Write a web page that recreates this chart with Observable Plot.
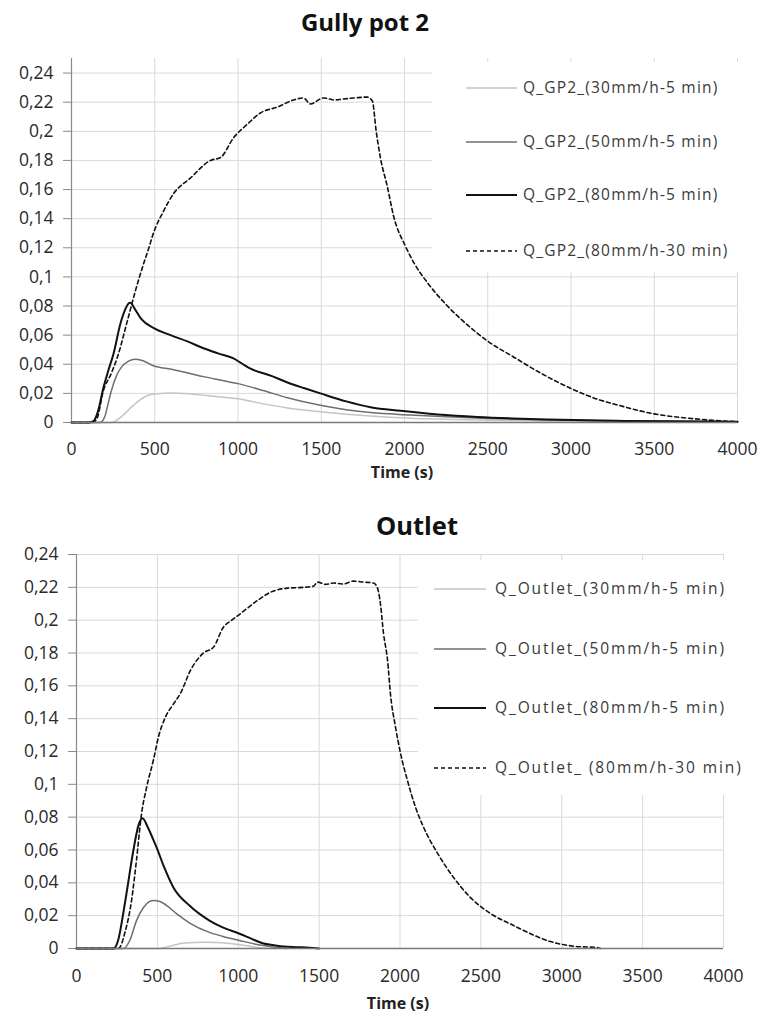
<!DOCTYPE html>
<html>
<head>
<meta charset="utf-8">
<script src="https://cdn.jsdelivr.net/npm/d3@7"></script>
<script src="https://cdn.jsdelivr.net/npm/@observablehq/plot@0.6"></script>
<style>
  body { margin: 0; background: #fff; }
  #root { position: relative; width: 761px; height: 1016px; background: #fff; font-family: "Open Sans", sans-serif; overflow: hidden; }
  .abs { position: absolute; }
  .title { font-weight: bold; line-height: 28px; color: #111; text-align: center; width: 400px; }
  .xlabel { font-weight: bold; font-size: 16px; line-height: 20px; color: #222; text-align: center; width: 200px; }
  .legbox { background: #fff; }
  .legtext { font-size: 15.5px; line-height: 20px; color: #3a3a3a; white-space: nowrap; }
</style>
</head>
<body>
<div id="root"></div>
<script>
// ---------------- DATA ----------------
const xTicks = [0, 500, 1000, 1500, 2000, 2500, 3000, 3500, 4000];
const xTickLabels = ["0", "500", "1000", "1500", "2000", "2500", "3000", "3500", "4000"];
const yTicks = [0, 0.02, 0.04, 0.06, 0.08, 0.1, 0.12, 0.14, 0.16, 0.18, 0.2, 0.22, 0.24];
const yTickLabels = ["0", "0,02", "0,04", "0,06", "0,08", "0,1", "0,12", "0,14", "0,16", "0,18", "0,2", "0,22", "0,24"];
const titles = ["Gully pot 2", "Outlet"];
const xLabel = "Time (s)";

const gp2Labels = ["Q_GP2_(30mm/h-5 min)", "Q_GP2_(50mm/h-5 min)", "Q_GP2_(80mm/h-5 min)", "Q_GP2_(80mm/h-30 min)"];
const outletLabels = ["Q_Outlet_(30mm/h-5 min)", "Q_Outlet_(50mm/h-5 min)", "Q_Outlet_(80mm/h-5 min)", "Q_Outlet_ (80mm/h-30 min)"];

// Gully pot 2
const gp2_30_t = [0, 240, 300, 354, 400, 456, 520, 595, 700, 793, 880, 1000, 1100, 1297, 1495, 1650, 1796, 2036, 2250, 2500, 2750, 3000, 3250, 3500, 3750, 4000];
const gp2_30_q = [0, 0, 0.004, 0.010, 0.0145, 0.0185, 0.0198, 0.0203, 0.0198, 0.0188, 0.0177, 0.0163, 0.0140, 0.0100, 0.0074, 0.0057, 0.0044, 0.0029, 0.0022, 0.0016, 0.0012, 0.0009, 0.0007, 0.0005, 0.0004, 0.0003];

const gp2_50_t = [0, 170, 200, 220, 240, 270, 300, 340, 384, 420, 492, 600, 700, 793, 900, 1000, 1150, 1297, 1495, 1650, 1796, 2036, 2250, 2500, 2750, 3000, 3250, 3500, 4000];
const gp2_50_q = [0, 0, 0.004, 0.013, 0.022, 0.032, 0.038, 0.042, 0.0435, 0.0428, 0.0390, 0.0365, 0.0340, 0.0315, 0.0290, 0.0267, 0.0220, 0.0170, 0.0118, 0.0088, 0.0068, 0.0052, 0.0040, 0.0028, 0.0020, 0.0015, 0.0011, 0.0008, 0.0005];

const gp2_80_t = [0, 100, 132, 160, 192, 222, 252, 294, 324, 345, 354, 380, 420, 492, 595, 700, 793, 880, 973, 1030, 1075, 1200, 1297, 1400, 1495, 1650, 1796, 1976, 2200, 2438, 2650, 2858, 3100, 3315, 3600, 4000];
const gp2_80_q = [0, 0, 0.001, 0.008, 0.024, 0.036, 0.047, 0.068, 0.078, 0.082, 0.0823, 0.078, 0.071, 0.065, 0.060, 0.0555, 0.051, 0.0475, 0.044, 0.040, 0.037, 0.032, 0.0275, 0.0235, 0.020, 0.0145, 0.0105, 0.008, 0.0055, 0.0038, 0.0028, 0.0021, 0.0015, 0.0011, 0.0008, 0.0005];

const gp2_80L_t = [0, 120, 150, 192, 240, 276, 336, 384, 430, 462, 492, 552, 612, 715, 835, 895, 973, 1057, 1135, 1237, 1333, 1393, 1435, 1513, 1580, 1633, 1700, 1777, 1807, 1830, 1855, 1897, 1934, 2006, 2060, 2138, 2258, 2378, 2498, 2655, 2817, 2997, 3159, 3297, 3495, 3700, 3850, 4000];
const gp2_80L_q = [0, 0, 0.002, 0.022, 0.034, 0.045, 0.070, 0.0905, 0.108, 0.119, 0.130, 0.145, 0.157, 0.168, 0.180, 0.182, 0.1955, 0.205, 0.2126, 0.2167, 0.2215, 0.2229, 0.2188, 0.2229, 0.2215, 0.2222, 0.2229, 0.2235, 0.2208, 0.200, 0.182, 0.162, 0.142, 0.121, 0.109, 0.096, 0.080, 0.067, 0.056, 0.045, 0.034, 0.0235, 0.016, 0.0115, 0.006, 0.003, 0.0015, 0.0005];

// Outlet
const out_30_t = [0, 513, 560, 618, 670, 723, 800, 865, 950, 1032, 1100, 1160, 1250];
const out_30_q = [0, 0, 0.001, 0.0025, 0.0033, 0.0037, 0.0038, 0.0037, 0.003, 0.002, 0.001, 0.0003, 0];

const out_50_t = [0, 290, 330, 371, 414, 450, 476, 520, 618, 700, 822, 900, 1008, 1100, 1156, 1220, 1300];
const out_50_q = [0, 0, 0.005, 0.017, 0.025, 0.0285, 0.0293, 0.0285, 0.0213, 0.0155, 0.0098, 0.0075, 0.0049, 0.0028, 0.0018, 0.0008, 0];

const out_80_t = [0, 229, 260, 290, 309, 352, 383, 408, 440, 476, 495, 540, 600, 700, 822, 900, 1008, 1080, 1156, 1220, 1280, 1360, 1440, 1500];
const out_80_q = [0, 0, 0.006, 0.022, 0.0335, 0.060, 0.075, 0.0793, 0.074, 0.066, 0.0616, 0.050, 0.037, 0.026, 0.017, 0.013, 0.009, 0.006, 0.003, 0.002, 0.0012, 0.0008, 0.0005, 0];

const out_80L_t = [0, 260, 300, 340, 371, 402, 433, 476, 507, 550, 600, 643, 705, 785, 847, 908, 960, 1014, 1119, 1199, 1305, 1403, 1465, 1490, 1540, 1589, 1650, 1713, 1774, 1836, 1861, 1879, 1898, 1923, 1941, 1972, 2003, 2046, 2096, 2145, 2232, 2331, 2436, 2560, 2702, 2807, 2930, 3073, 3221, 3240];
const out_80L_q = [0, 0, 0.010, 0.029, 0.054, 0.082, 0.098, 0.115, 0.129, 0.141, 0.149, 0.1555, 0.1695, 0.180, 0.1835, 0.1957, 0.200, 0.204, 0.212, 0.217, 0.2195, 0.220, 0.2207, 0.2232, 0.2218, 0.2226, 0.222, 0.2238, 0.2232, 0.2226, 0.2195, 0.210, 0.192, 0.1756, 0.155, 0.135, 0.119, 0.1024, 0.086, 0.074, 0.058, 0.0433, 0.031, 0.0213, 0.014, 0.0090, 0.0042, 0.0014, 0.0005, 0];

// ---------------- STYLES ----------------
const seriesStyles = [
  {stroke: "#c4c4c4", strokeWidth: 1.5, dash: null},
  {stroke: "#6e6e6e", strokeWidth: 1.5, dash: null},
  {stroke: "#111111", strokeWidth: 2, dash: null},
  {stroke: "#111111", strokeWidth: 1.6, dash: "4,3"}
];

const root = document.getElementById("root");

function toRows(ts, qs) { return ts.map((t, i) => ({t, q: qs[i]})); }

function makeChart(cfg) {
  const marks = [
    Plot.gridX(xTicks, {stroke: "#d9d9d9", strokeOpacity: 1, strokeWidth: 1}),
    Plot.gridY(yTicks, {stroke: "#d9d9d9", strokeOpacity: 1, strokeWidth: 1}),
    Plot.ruleX([0], {stroke: "#8a8a8a", strokeWidth: 1.2}),
    Plot.axisY(yTicks, {
      tickSize: 8, tickPadding: 10, stroke: "#8a8a8a",
      tickFormat: (d, i) => yTickLabels[i],
      fontSize: 17.5, fill: "#2a2a2a", label: null
    }),
    Plot.axisX(xTicks, {
      tickSize: 0, tickPadding: cfg.xPad, fontSize: 17.5, fill: "#2a2a2a", label: null,
      tickFormat: (d, i) => xTickLabels[i]
    })
  ];
  cfg.series.forEach((s, i) => {
    const st = seriesStyles[i];
    const opts = {x: "t", y: "q", stroke: st.stroke, strokeWidth: st.strokeWidth, curve: "monotone-x"};
    if (st.dash) opts.strokeDasharray = st.dash;
    marks.push(Plot.line(toRows(s[0], s[1]), opts));
  });
  marks.push(Plot.ruleY([0], {stroke: "#7a7a7a", strokeWidth: 1.6}));
  const svg = Plot.plot({
    width: 761, height: cfg.height,
    marginLeft: cfg.ml, marginRight: cfg.mr, marginTop: cfg.mt, marginBottom: cfg.mb,
    style: {fontFamily: "'Open Sans', sans-serif", background: "transparent", overflow: "visible"},
    x: {domain: [0, 4000]},
    y: {domain: cfg.yDomain},
    marks
  });
  svg.style.position = "absolute";
  svg.style.left = "0px";
  svg.style.top = cfg.top + "px";
  root.appendChild(svg);
}

function addDiv(cls, text, left, top) {
  const d = document.createElement("div");
  d.className = "abs " + cls;
  d.textContent = text;
  d.style.left = left + "px";
  d.style.top = top + "px";
  root.appendChild(d);
  return d;
}

function makeLegend(box, labels, rowsY, lineX0, lineX1, textX, ls) {
  const b = document.createElement("div");
  b.className = "abs legbox";
  b.style.left = box[0] + "px"; b.style.top = box[1] + "px";
  b.style.width = box[2] + "px"; b.style.height = box[3] + "px";
  root.appendChild(b);
  labels.forEach((lab, i) => {
    const st = seriesStyles[i];
    const ns = "http://www.w3.org/2000/svg";
    const s = document.createElementNS(ns, "svg");
    s.setAttribute("width", lineX1 - lineX0);
    s.setAttribute("height", 6);
    s.style.position = "absolute";
    s.style.left = lineX0 + "px";
    s.style.top = (rowsY[i] - 3) + "px";
    const l = document.createElementNS(ns, "line");
    l.setAttribute("x1", 0); l.setAttribute("x2", lineX1 - lineX0);
    l.setAttribute("y1", 3); l.setAttribute("y2", 3);
    l.setAttribute("stroke", st.stroke);
    l.setAttribute("stroke-width", st.strokeWidth);
    if (st.dash) l.setAttribute("stroke-dasharray", st.dash);
    s.appendChild(l);
    root.appendChild(s);
    const t = addDiv("legtext", lab, textX, rowsY[i] - 11);
    t.style.letterSpacing = ls + "px";
  });
}

// Top chart: Gully pot 2
makeChart({
  top: 0, height: 490, ml: 71, mr: 24, mt: 58, mb: 68, yDomain: [0, 0.25], xPad: 20,
  series: [[gp2_30_t, gp2_30_q], [gp2_50_t, gp2_50_q], [gp2_80_t, gp2_80_q], [gp2_80L_t, gp2_80L_q]]
});
const t1 = addDiv("title", titles[0], 365 - 200, 8);
t1.style.fontSize = "24px";
addDiv("xlabel", xLabel, 402 - 100, 462);
makeLegend([432, 62, 318, 210], gp2Labels, [88, 142, 195, 251], 466, 517, 523, 1.2);

// Bottom chart: Outlet
makeChart({
  top: 490, height: 526, ml: 76, mr: 38, mt: 64, mb: 68, yDomain: [0, 0.24], xPad: 21,
  series: [[out_30_t, out_30_q], [out_50_t, out_50_q], [out_80_t, out_80_q], [out_80L_t, out_80L_q]]
});
const t2 = addDiv("title", titles[1], 417 - 200, 511);
t2.style.fontSize = "25.5px";
addDiv("xlabel", xLabel, 398 - 100, 993);
makeLegend([418, 560, 330, 235], outletLabels, [589, 649, 708, 768], 434, 486, 495, 1.9);
</script>
</body>
</html>
